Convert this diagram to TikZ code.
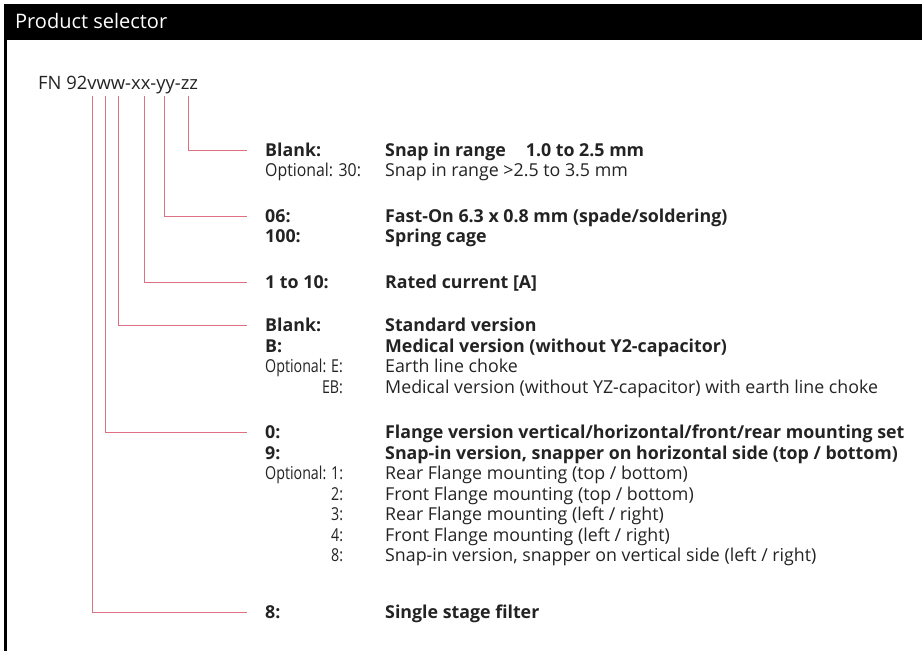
\documentclass[tikz,border=0pt]{standalone}
\usepackage{fontspec}
\setmainfont{Open Sans}
\definecolor{selred}{RGB}{222,112,132}
\definecolor{seltext}{RGB}{35,35,35}
\tikzset{
  selline/.style={draw=selred, line width=0.9pt},
  code/.style={anchor=base west, inner sep=0pt, text=seltext, font=\fontsize{17.8}{20}\selectfont},
  codeb/.style={code, font=\fontsize{17.8}{20}\selectfont\bfseries},
  codenar/.style={code, font=\fontsize{17.8}{20}\selectfont\addfontfeature{FakeStretch=#1}},
  codeopt/.style={codenar=0.8, anchor=base east}
}
\begin{document}
\begin{tikzpicture}[x=1pt,y=1pt]
    \useasboundingbox (0,0) rectangle (922,651);
    % frame and title bar
    \fill[black] (4,611) rectangle (922,647);
    \draw[line width=2.5pt] (5.25,647) -- (5.25,0);
    \node[anchor=base west, inner sep=0pt, text=white, font=\fontsize{20}{24}\selectfont] (title) at (15,622.5) {Product selector};
    \node[anchor=base west, inner sep=0pt, text=seltext, font=\fontsize{18.4}{22}\selectfont] (fn) at (38,561.5) {FN 92vww-xx-yy-zz};
    % feet of the connectors under the code letters
    \coordinate (cv) at (92.7,555);
    \coordinate (cw) at (105.3,555);
    \coordinate (cww) at (118.7,555);
    \coordinate (cx) at (144.3,555);
    \coordinate (cy) at (164.7,555);
    \coordinate (cz) at (188.7,555);
    % zz
    \node[codeb] (zza) at (265,494.7) {Blank:};
    \node[codeb] (zzat) at (385,494.7) {Snap in range\hspace{20pt}1.0 to 2.5 mm};
    \node[codenar=0.89] (zzb) at (265,474.7) {Optional: 30:};
    \node[code] (zzbt) at (385,474.7) {Snap in range >2.5 to 3.5 mm};
    % yy
    \node[codeb] (yya) at (265,428.7) {06:};
    \node[codeb] (yyat) at (385,428.7) {Fast-On 6.3 x 0.8 mm (spade/soldering)};
    \node[codeb] (yyb) at (265,408.7) {100:};
    \node[codeb] (yybt) at (385,408.7) {Spring cage};
    % xx
    \node[codeb] (xxa) at (265,362.7) {1 to 10:};
    \node[codeb] (xxat) at (385,362.7) {Rated current [A]};
    % ww
    \node[codeb] (wwa) at (265,319.7) {Blank:};
    \node[codeb] (wwat) at (385,319.7) {Standard version};
    \node[codeb] (wwb) at (265,298.7) {B:};
    \node[codeb] (wwbt) at (385,298.7) {Medical version (without Y2-capacitor)};
    \node[codenar=0.8] (wwc) at (265,278.7) {Optional: E:};
    \node[code] (wwct) at (385,278.7) {Earth line choke};
    \node[codeopt] (wwd) at ([yshift=-21pt]wwc.base east) {EB:};
    \node[code] (wwdt) at (385,257.7) {Medical version (without YZ-capacitor) with earth line choke};
    % w
    \node[codeb] (wa) at (265,212.7) {0:};
    \node[codeb] (wat) at (385,212.7) {Flange version vertical/horizontal/front/rear mounting set};
    \node[codeb] (wb) at (265,191.7) {9:};
    \node[codeb] (wbt) at (385,191.7) {Snap-in version, snapper on horizontal side (top / bottom)};
    \node[codenar=0.8] (wc) at (265,171.7) {Optional: 1:};
    \node[code] (wct) at (385,171.7) {Rear Flange mounting (top / bottom)};
    \node[codeopt] (wd) at ([yshift=-21pt]wc.base east) {2:};
    \node[code] (wdt) at (385,150.7) {Front Flange mounting (top / bottom)};
    \node[codeopt] (we) at ([yshift=-20pt]wd.base east) {3:};
    \node[code] (wet) at (385,130.7) {Rear Flange mounting (left / right)};
    \node[codeopt] (wf) at ([yshift=-21pt]we.base east) {4:};
    \node[code] (wft) at (385,109.7) {Front Flange mounting (left / right)};
    \node[codeopt] (wg) at ([yshift=-20pt]wf.base east) {8:};
    \node[code] (wgt) at (385,89.7) {Snap-in version, snapper on vertical side (left / right)};
    % v
    \node[codeb] (va) at (265,32.7) {8:};
    \node[codeb] (vat) at (385,32.7) {Single stage filter};
    % connectors
    \draw[selline] (cz) |- ([xshift=-18pt,yshift=6.3pt]zza.base west);
    \draw[selline] (cy) |- ([xshift=-18pt,yshift=6.3pt]yya.base west);
    \draw[selline] (cx) |- ([xshift=-18pt,yshift=6.3pt]xxa.base west);
    \draw[selline] (cww) |- ([xshift=-18pt,yshift=6.3pt]wwa.base west);
    \draw[selline] (cw) |- ([xshift=-18pt,yshift=6.3pt]wa.base west);
    \draw[selline] (cv) |- ([xshift=-18pt,yshift=6.3pt]va.base west);
  \end{tikzpicture}
\end{document}
